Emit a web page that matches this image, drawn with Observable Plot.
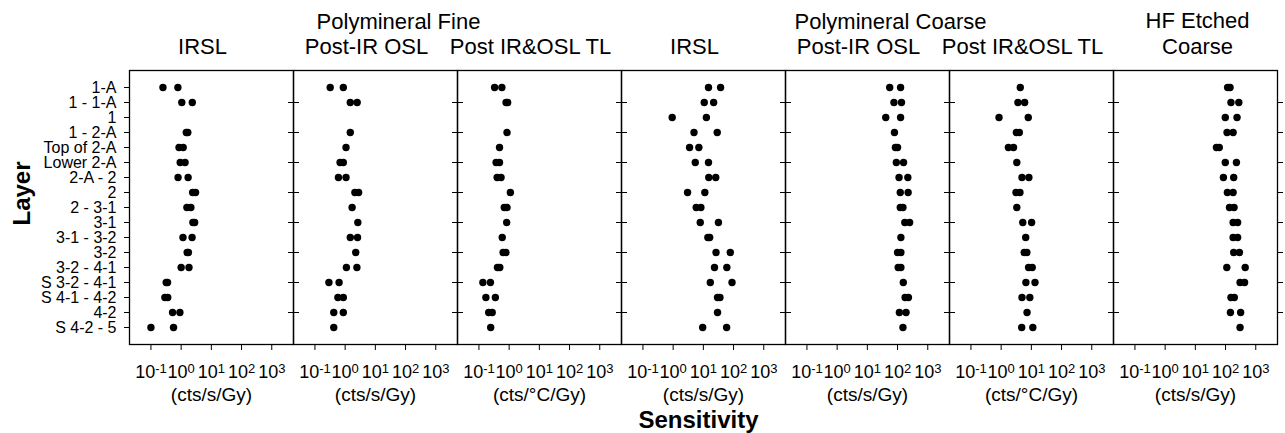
<!DOCTYPE html>
<html>
<head>
<meta charset="utf-8">
<script src="https://cdn.jsdelivr.net/npm/d3@7"></script>
<script src="https://cdn.jsdelivr.net/npm/@observablehq/plot@0.6"></script>
<style>
  html, body { margin: 0; padding: 0; background: #fff; }
  svg { display: block; }
</style>
</head>
<body>
<div id="chart"></div>
<script>
const layers = ["1-A","1 - 1-A","1","1 - 2-A","Top of 2-A","Lower 2-A","2-A - 2","2","2 - 3-1","3-1","3-1 - 3-2","3-2","3-2 - 4-1","S 3-2 - 4-1","S 4-1 - 4-2","4-2","S 4-2 - 5"];
const altLayers = layers.filter((d, i) => i % 2 === 1);

const panelIds = ["p1","p2","p3","p4","p5","p6","p7"];
const methodTitles = ["IRSL","Post-IR OSL","Post IR&OSL TL","IRSL","Post-IR OSL","Post IR&OSL TL"];
const groupTitles = ["Polymineral Fine","Polymineral Coarse"];
const groupPanels = ["p2","p5"];
const hfTitle = "HF Etched\nCoarse";
const units = ["(cts/s/Gy)","(cts/s/Gy)","(cts/°C/Gy)","(cts/s/Gy)","(cts/s/Gy)","(cts/°C/Gy)","(cts/s/Gy)"];
const xTicks = [0.1, 1, 10, 100, 1000];

// Sensitivity values per layer (two aliquots where visible)
const fineIRSL = [[0.25,0.78],[1.05,2.34],[],[1.48,1.66],[0.85,1.17],[0.93,1.35],[0.79,1.7],[2.4,3.0],[1.55,2.1],[2.45,2.8],[1.15,2.3],[1.58,1.74],[1.0,1.82],[0.32,0.355],[0.29,0.36],[0.52,0.91],[0.1,0.56]];
const finePostIR = [[0.32,0.87],[1.48,2.5],[],[1.48],[1.07],[0.68,0.87],[0.60,1.07],[2.1,2.8],[1.7],[2.63],[1.48,2.57],[2.24],[1.1,2.45],[0.29,0.63],[0.575,0.87],[0.42,0.87],[0.42]];
const fineTL = [[0.33,0.575],[0.79,0.89],[],[0.85],[0.48],[0.37,0.48],[0.40,0.54],[1.1],[0.69,0.85],[0.83],[0.59],[0.63,0.78],[0.41,0.49],[0.135,0.24],[0.17,0.35],[0.21,0.275],[0.245]];
const coarseIRSL = [[14.8,37.2],[10.7,21.9],[0.93,12.6],[4.9,28.8],[3.5,7.1],[5.4,14.8],[15.1,25.7],[3.0,11.2],[5.8,8.3],[7.9,31.6],[14.1,16.2],[26.3,78],[23.4,60],[17,89],[29.5,35.5],[29.5],[9.5,59]];
const coarsePostIR = [[55,126],[76,135],[40.7,126],[79],[85,100],[91,158],[112,219],[123,224],[123,151],[174,251],[129],[100,129],[105,129],[155],[178,229],[115,191],[151]];
const coarseTL = [[4.3],[3.6,6.0],[0.85,7.9],[3.2,4.0],[1.74,2.57],[3.3],[4.9,8.3],[3.1,4.2],[3.3],[5.2,10.2],[6.5],[5.8,7.1],[8.1,10.7],[6.6,13.2],[4.9,8.9],[7.2],[4.8,11.2]];
const hfCoarse = [[117,141],[151,275],[98,240],[112,178],[50,62],[98,229],[85,186],[115,178],[135,191],[178,251],[178,251],[186,288],[110,447],[302,427],[151,195],[145,316],[302]];

const panelData = [fineIRSL, finePostIR, fineTL, coarseIRSL, coarsePostIR, coarseTL, hfCoarse];
const points = panelData.flatMap((arr, i) =>
  arr.flatMap((vals, j) => vals.map(v => ({panel: panelIds[i], layer: layers[j], value: v}))));

const methodRows = methodTitles.map((t, i) => ({panel: panelIds[i], text: t}));
const groupRows = groupTitles.map((t, i) => ({panel: groupPanels[i], text: t}));
const unitRows = units.map((t, i) => ({panel: panelIds[i], text: t}));

const font = "'Liberation Sans', Arial, Helvetica, sans-serif";

const plot = Plot.plot({
  width: 1285,
  height: 433,
  marginTop: 70,
  marginBottom: 89,
  marginLeft: 127,
  marginRight: 7,
  style: {fontFamily: font, background: "#fff", color: "#000"},
  fx: {domain: panelIds, padding: 0, axis: null},
  x: {type: "log", domain: [Math.pow(10, -1.71), Math.pow(10, 3.72)], axis: null},
  y: {type: "point", domain: layers, padding: 1, axis: null},
  marks: [
    Plot.frame({stroke: "#000", strokeWidth: 1.3}),
    Plot.axisY({anchor: "left", tickSize: 5, tickPadding: 8, fontSize: 16, label: null, strokeWidth: 1}),
    Plot.axisY(altLayers, {anchor: "left", facetAnchor: null, tickSize: 5, tickFormat: null, label: null}),
    Plot.axisY(altLayers, {anchor: "right", facetAnchor: null, tickSize: 5, tickFormat: null, label: null}),
    Plot.axisX(xTicks, {anchor: "bottom", tickSize: 6, tickPadding: 15, fontSize: 18, label: null,
      tickFormat: d => String(Math.round(Math.log10(d)))}),
    Plot.dot(points, {x: "value", y: "layer", fx: "panel", r: 3.7, fill: "#000", stroke: "none"}),
    Plot.text(methodRows, {fx: "panel", text: "text", frameAnchor: "top", lineAnchor: "bottom", dy: -17, dx: -9, fontSize: 22}),
    Plot.text(groupRows, {fx: "panel", text: "text", frameAnchor: "top", lineAnchor: "bottom", dy: -42, dx: 23, fontSize: 22}),
    Plot.text([{panel: "p7", text: hfTitle}], {fx: "panel", text: "text", frameAnchor: "top", lineAnchor: "bottom", dy: -17, dx: 2, fontSize: 22, lineHeight: 1.14}),
    Plot.text(unitRows, {fx: "panel", text: "text", frameAnchor: "bottom", lineAnchor: "bottom", dy: 56, fontSize: 19}),
    Plot.text([{panel: "p4", text: "Sensitivity"}], {fx: "panel", text: "text", frameAnchor: "bottom", lineAnchor: "bottom", dy: 83, dx: -5, fontSize: 24, fontWeight: "bold"}),
    Plot.text([{panel: "p1", text: "Layer"}], {fx: "panel", text: "text", frameAnchor: "left", lineAnchor: "bottom", rotate: -90, dx: -100, dy: 18, fontSize: 24, fontWeight: "bold"})
  ]
});

// superscript exponents on log tick labels
plot.querySelectorAll('g[aria-label="x-axis tick label"] text').forEach(t => {
  const exp = t.textContent;
  t.textContent = "10";
  const ts = document.createElementNS("http://www.w3.org/2000/svg", "tspan");
  ts.setAttribute("dy", "-0.42em");
  ts.setAttribute("font-size", "13");
  ts.textContent = exp;
  t.appendChild(ts);
});

document.getElementById("chart").appendChild(plot);
</script>
</body>
</html>
